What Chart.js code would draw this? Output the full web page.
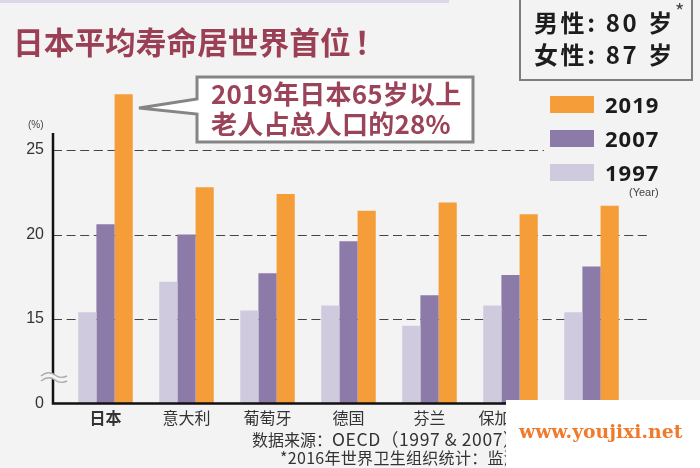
<!DOCTYPE html>
<html lang="zh">
<head>
<meta charset="UTF-8">
<title>日本平均寿命居世界首位</title>
<script src="https://cdn.jsdelivr.net/npm/chart.js"></script>
<style>
  body { margin: 0; background: #f3f3f3; font-family: "Noto Sans CJK SC", sans-serif; }
  #wrap { position: relative; width: 700px; height: 468px; overflow: hidden; }
  #wrap div, #wrap svg { position: absolute; }
  canvas { position: absolute; left: 0; top: 0; }
  .txt { white-space: nowrap; line-height: 1; }
  .swatch { left: 550px; width: 44px; height: 17px; }
  .year { left: 605px; font-size: 22px; font-weight: 700; color: #1c1a1a; font-family: "Noto Sans", sans-serif; letter-spacing: 1px; }
  .note { left: 534px; font-size: 24px; font-weight: 700; color: #1d1d1d; letter-spacing: 2.6px; }
  .call { left: 211px; font-size: 26px; font-weight: 700; color: #9b4359; letter-spacing: .2px; }
</style>
</head>
<body>
<div id="wrap">
  <canvas id="chart" width="700" height="468"></canvas>

  <div style="left:0;top:0;width:449px;height:3px;background:#dcd6e6"></div>
  <div class="txt" style="left:13px;top:26px;font-size:30.7px;font-weight:700;color:#9b3f54">日本平均寿命居世界首位<span style="margin-left:4px">！</span></div>

  <svg style="left:130px;top:70px" width="350" height="80">
    <path d="M67 7 H343 V72 H67 V44 L9 38 L67 29 Z" fill="#fff" stroke="#858585" stroke-width="3"/>
  </svg>
  <div class="txt call" style="top:80px">2019年日本65岁以上</div>
  <div class="txt call" style="top:110px">老人占总人口的28%</div>

  <div style="left:519px;top:-4px;width:170px;height:81px;border:2px solid #7d7d7d"></div>
  <div class="txt note" style="top:10px">男性: 80 <span style="margin-left:1px">岁</span></div>
  <div class="txt note" style="top:42px">女性: 87 <span style="margin-left:1px">岁</span></div>
  <div class="txt" style="left:675px;top:1px;font-size:20px;color:#444">*</div>

  <div class="swatch" style="top:96px;background:#f59d38"></div>
  <div class="swatch" style="top:130px;background:#8c7aa9"></div>
  <div class="swatch" style="top:164px;background:#d0cade"></div>
  <div class="txt year" style="top:93px">2019</div>
  <div class="txt year" style="top:127px">2007</div>
  <div class="txt year" style="top:161px">1997</div>
  <div class="txt" style="left:629px;top:187px;font-size:11px;color:#444;font-family:'Liberation Sans',sans-serif">(Year)</div>
  <div class="txt" style="left:28px;top:120px;font-size:10px;color:#444;font-family:'Liberation Sans',sans-serif">(%)</div>

  <svg style="left:38px;top:368px" width="32" height="20">
    <path d="M3 8 C9 3 13 4 17 7 S25 10 29 8 L29 13 C25 15 21 14 17 12 S9 8 3 13 Z" fill="#f3f3f3"/>
    <path d="M3 8 C9 3 13 4 17 7 S25 10 29 8 M3 13 C9 8 13 9 17 12 S25 15 29 13" fill="none" stroke="#aaa" stroke-width="1.4"/>
  </svg>

  <div class="txt" style="left:252px;top:430px;font-size:16px;color:#333">数据来源：<span style="font-size:17.5px;letter-spacing:.6px">OECD（1997 &amp; 2007）</span></div>
  <div class="txt" style="left:280px;top:449px;font-size:16px;color:#333;letter-spacing:.3px">*2016年世界卫生组织统计：监测</div>

  <div style="left:506px;top:400px;width:194px;height:68px;background:#fff"></div>
  <div class="txt" style="left:519px;top:422px;font-size:18.8px;font-weight:700;color:#f07a2a;font-family:'DejaVu Serif',serif">www.youjixi.net</div>
</div>

<script>
const categories = ["日本", "意大利", "葡萄牙", "德国", "芬兰", "保加利亚", ""];
const values1997 = [15.4, 17.2, 15.5, 15.8, 14.6, 15.8, 15.4];
const values2007 = [20.6, 20.0, 17.7, 19.6, 16.4, 17.6, 18.1];
const values2019 = [28.3, 22.8, 22.4, 21.4, 21.9, 21.2, 21.7];
const axisTicks = [10, 15, 20, 25];
const brokenAxisBase = 10; // sumbu patah: nilai 10 ditulis sebagai 0

// garis putus-putus dan sumbu digambar lebih panjang dari area plot
const axesPlugin = {
  id: "axesPlugin",
  beforeDatasetsDraw(chart) {
    const { ctx, chartArea, scales } = chart;
    ctx.save();
    ctx.strokeStyle = "#444";
    ctx.lineWidth = 1;
    ctx.setLineDash([9, 4.6]);
    [[25, 544], [20, 647], [15, 647]].forEach(([v, end]) => {
      const y = Math.round(scales.y.getPixelForValue(v)) + 0.5;
      ctx.beginPath();
      ctx.moveTo(chartArea.left - 12, y);
      ctx.lineTo(end, y);
      ctx.stroke();
    });
    ctx.restore();
  },
  afterDatasetsDraw(chart) {
    const { ctx, chartArea, scales } = chart;
    const bottom = scales.y.getPixelForValue(brokenAxisBase);
    ctx.save();
    ctx.strokeStyle = "#111";
    ctx.lineWidth = 2.5;
    ctx.beginPath();
    ctx.moveTo(chartArea.left - 12, scales.y.getPixelForValue(26));
    ctx.lineTo(chartArea.left - 12, bottom);
    ctx.lineTo(646, bottom);
    ctx.stroke();
    ctx.restore();
  }
};

new Chart(document.getElementById("chart"), {
  type: "bar",
  data: {
    labels: categories,
    datasets: [
      { label: "1997", data: values1997, backgroundColor: "#d0cade" },
      { label: "2007", data: values2007, backgroundColor: "#8c7aa9" },
      { label: "2019", data: values2019, backgroundColor: "#f59d38" }
    ]
  },
  options: {
    responsive: false,
    animation: false,
    layout: { padding: { top: 65.5, right: 68, left: 0, bottom: 0 } },
    datasets: { bar: { barPercentage: 1, categoryPercentage: 0.673 } },
    plugins: { legend: { display: false }, tooltip: { enabled: false } },
    scales: {
      x: {
        grid: { display: false, drawTicks: false },
        border: { display: false },
        afterFit: (s) => { s.height = 64.5; },
        ticks: {
          padding: 5,
          maxRotation: 0,
          autoSkip: false,
          color: "#333",
          font: (c) => ({ family: "Noto Sans CJK SC", size: 16, weight: c.index === 0 ? "700" : "400" })
        }
      },
      y: {
        min: brokenAxisBase,
        max: 30,
        grid: { display: false, drawTicks: false },
        border: { display: false },
        afterFit: (s) => { s.width = 65; },
        afterBuildTicks: (s) => { s.ticks = axisTicks.map((value) => ({ value })); },
        ticks: {
          padding: 21,
          color: "#333",
          font: { family: "Liberation Sans", size: 16 },
          callback: (v) => (v === brokenAxisBase ? "0" : String(v))
        }
      }
    }
  },
  plugins: [axesPlugin]
});
</script>
</body>
</html>
